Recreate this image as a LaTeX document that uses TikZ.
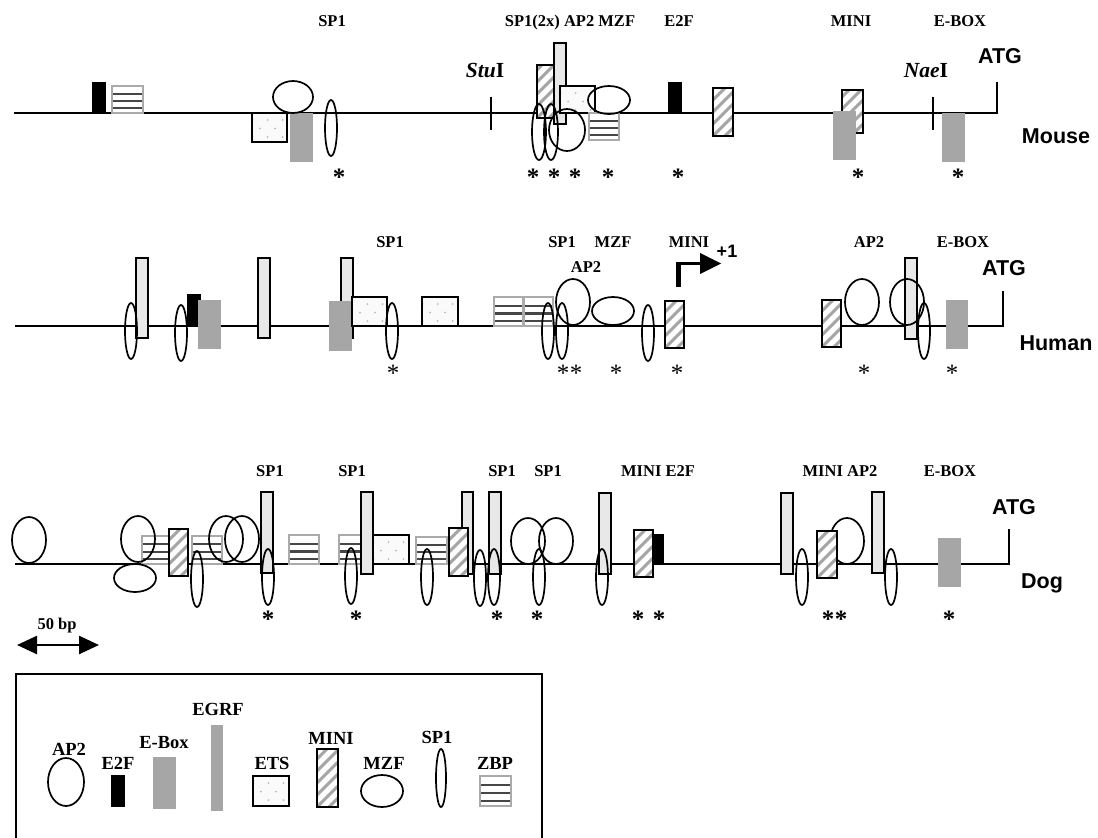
\documentclass[tikz,border=0pt]{standalone}
\usepackage{fontspec}
\setmainfont{Liberation Serif}
\newfontfamily\arialf{Liberation Sans}
\usetikzlibrary{calc,arrows.meta}
\definecolor{egrfgray}{RGB}{232,232,232}
\definecolor{boxgray}{RGB}{166,166,166}
\definecolor{zbpgray}{RGB}{170,170,170}
\definecolor{zbpdark}{RGB}{70,70,70}
\definecolor{etsfill}{RGB}{250,250,250}
\definecolor{etsdot}{RGB}{185,185,185}
\definecolor{hatchgray}{RGB}{165,165,165}
\tikzset{
 dna/.style={line width=1.6pt},
 shp/.style={draw=black, line width=1.6pt},
 ell/.style={draw=black, line width=1.7pt},
 hatch/.style={hatchgray, line width=3pt},
 zbpline/.style={zbpdark, line width=2.1pt},
 zbpedge/.style={zbpgray, line width=2.6pt},
 lbl/.style={font=\fontsize{16.5}{18}\selectfont\bfseries, anchor=base, inner sep=0pt},
 leg/.style={font=\fontsize{18.5}{20}\selectfont\bfseries, anchor=base, inner sep=0pt},
 sans/.style={font=\arialf\fontsize{21.5}{24}\selectfont\bfseries, anchor=base, inner sep=0pt},
 enz/.style={font=\fontsize{21.5}{24}\selectfont\bfseries, anchor=base, inner sep=0pt},
 ast/.style={font=\fontsize{25}{26}\selectfont\bfseries, anchor=base, inner sep=0pt},
 astl/.style={font=\fontsize{25}{26}\selectfont, anchor=base, inner sep=0pt},
}
\newcommand\tfEGRF[4]{\filldraw[shp, fill=egrfgray] (#1,#2) rectangle (#3,#4);}
\newcommand\tfEBOX[4]{\fill[boxgray] (#1,#2) rectangle (#3,#4);}
\newcommand\tfEtwoF[4]{\fill[black] (#1,#2) rectangle (#3,#4);}
\newcommand\tfELL[4]{\draw[ell] (#1,#2) ellipse [x radius=#3pt, y radius=#4pt];}
\newcommand\tfSP[2]{\tfELL{#1}{#2}{6}{28}}
\newcommand\tfAP[2]{\tfELL{#1}{#2}{17}{23}}
\newcommand\tfMZ[2]{\tfELL{#1}{#2}{21}{14}}
\newcommand\tfZBP[4]{%
 \fill[white] (#1,#2) rectangle (#3,#4);
 \foreach \f in {0.3,0.57,0.83} \draw[zbpline] ($(#1,#2)!\f!(#1,#4)$) -- ($(#3,#2)!\f!(#3,#4)$);
 \draw[zbpedge] (#1,#2) rectangle (#3,#4);}
\newcommand\tfETS[4]{%
 \fill[etsfill] (#1,#2) rectangle (#3,#4);
 \begin{scope}
 \clip (#1,#2) rectangle (#3,#4);
 \foreach \j in {0,2,4} \foreach \i in {-1,...,3} \fill[etsdot] ($(#1,#2)+(\i*15+8,\j*8.5-1.5)$) circle (1pt);
 \foreach \j in {1,3} \foreach \i in {-1,...,3} \fill[etsdot] ($(#1,#2)+(\i*15+15.5,\j*8.5-1.5)$) circle (1pt);
 \end{scope}
 \draw[shp] (#1,#2) rectangle (#3,#4);}
\newcommand\tfMINI[4]{%
 \begin{scope}
 \clip (#1,#2) rectangle (#3,#4);
 \fill[white] (#1,#2) rectangle (#3,#4);
 \foreach \k in {-7,...,3} \draw[hatch] ($(#1,#4)+(\k*12,0)$) -- ++(80,-80);
 \end{scope}
 \draw[shp] (#1,#2) rectangle (#3,#4);}
\begin{document}
\begin{tikzpicture}[x=1pt,y=-1pt]
\useasboundingbox (0,0) rectangle (1098,838);
% ================= MOUSE =================
\coordinate (mL) at (14,113);
\coordinate (mR) at (997,113);
\coordinate (mT) at (997,82);
\draw[dna] (mL) -- (mR) -- (mT);
\tfEtwoF{92}{82}{106}{113}
\tfZBP{112}{86}{143}{113}
\tfETS{252}{113}{287}{142}
\tfEBOX{290}{113}{313}{162}
\tfELL{293}{97}{20}{16}
\tfSP{331}{128}
\coordinate (stuA) at (491,97); \coordinate (stuB) at (491,130);
\draw[dna] (stuA) -- (stuB);
\tfMINI{537}{65}{557}{118}
\tfEGRF{554}{43}{566}{124}
\tfETS{560}{86}{595}{113}
\tfZBP{589}{113}{619}{140}
\tfMZ{609}{100}
\tfELL{539}{132}{7}{28}
\tfELL{551}{132}{7}{28}
\tfELL{567}{130}{18}{21}
\tfEtwoF{668}{82}{682}{113}
\tfMINI{713}{88}{733}{136}
\tfMINI{842}{90}{863}{133}
\tfEBOX{833}{111}{856}{160}
\coordinate (naeA) at (933,97); \coordinate (naeB) at (933,130);
\draw[dna] (naeA) -- (naeB);
\tfEBOX{942}{113}{965}{162}
\node[lbl] (mt1) at (332,26) {SP1};
\node[lbl] (mt2) at (570,26) {SP1(2x) AP2 MZF};
\node[lbl] (mt3) at (679,26) {E2F};
\node[lbl] (mt4) at (851,26) {MINI};
\node[lbl] (mt5) at (960,26) {E-BOX};
\node[enz] (stu) at (485,77) {\itshape Stu\upshape I};
\node[enz] (nae) at (926,77) {\itshape Nae\upshape I};
\node[sans] (matg) at (1000,63) {ATG};
\node[sans] (mouse) at (1056,143) {Mouse};
\foreach \x [count=\n] in {339,533,554,575,608,678,858,958}
 \node[ast] (ma\n) at (\x,185) {*};
% ================= HUMAN =================
\coordinate (hL) at (15,326);
\coordinate (hR) at (1003,326);
\coordinate (hT) at (1003,291);
\draw[dna] (hL) -- (hR) -- (hT);
\tfEGRF{136}{258}{148}{338}
\tfEtwoF{187}{294}{201}{325}
\tfEBOX{198}{300}{221}{349}
\tfEGRF{258}{258}{270}{338}
\tfEGRF{341}{258}{353}{338}
\tfEBOX{329}{301}{352}{351}
\tfETS{352}{297}{387}{326}
\tfETS{422}{297}{458}{326}
\tfZBP{494}{297}{523}{326}
\tfZBP{524}{297}{553}{326}
\tfMINI{665}{301}{684}{348}
\tfMINI{822}{300}{841}{347}
\tfEGRF{905}{258}{917}{339}
\tfEBOX{946}{300}{968}{349}
\tfSP{131}{331}
\tfSP{181}{333}
\tfSP{392}{331}
\tfSP{548}{331}
\tfSP{562}{331}
\tfAP{573}{302}
\tfMZ{613}{311}
\tfSP{648}{333}
\tfAP{862}{302}
\tfAP{907}{302}
\tfSP{924}{331}
% transcription start arrow
\coordinate (tsA) at (678.5,287);
\coordinate (tsB) at (678.5,261.5);
\coordinate (tsC) at (676,263.5);
\coordinate (tsD) at (702,263.5);
\draw[line width=5pt] (tsA) -- (tsB);
\draw[line width=2.5pt] (tsC) -- (tsD);
\fill (700,253) -- (721,263.5) -- (700,274) -- cycle;
\node[font=\arialf\fontsize{18}{20}\selectfont\bfseries, anchor=base, inner sep=0pt] (plus1) at (727,257) {+1};
\node[lbl] (ht1) at (390,247) {SP1};
\node[lbl] (ht2) at (562,247) {SP1};
\node[lbl] (ht3) at (613,247) {MZF};
\node[lbl] (ht4) at (689,247) {MINI};
\node[lbl] (ht5) at (586,272) {AP2};
\node[lbl] (ht6) at (869,247) {AP2};
\node[lbl] (ht7) at (963,247) {E-BOX};
\node[sans] (hatg) at (1004,275) {ATG};
\node[sans] (human) at (1056,350) {Human};
\foreach \x [count=\n] in {393,563,576,616,677,864,952}
 \node[astl] (ha\n) at (\x,381) {*};
% ================= DOG =================
\coordinate (dL) at (15,564);
\coordinate (dR) at (1009,564);
\coordinate (dT) at (1009,529);
\draw[dna] (dL) -- (dR) -- (dT);
\tfZBP{142}{536}{170}{564}
\tfMINI{169}{529}{188}{576}
\tfZBP{192}{536}{222}{564}
\tfEGRF{261}{492}{273}{573}
\tfZBP{289}{535}{319}{564}
\tfZBP{339}{535}{368}{564}
\tfEGRF{361}{492}{373}{574}
\tfETS{373}{535}{409}{564}
\tfZBP{416}{537}{447}{564}
\tfEGRF{462}{492}{473}{574}
\tfMINI{449}{528}{468}{576}
\tfEGRF{489}{492}{501}{574}
\tfEGRF{599}{493}{611}{574}
\tfMINI{634}{530}{653}{577}
\tfEtwoF{653}{534}{664}{564}
\tfEGRF{781}{493}{793}{574}
\tfAP{847}{541}
\tfMINI{817}{531}{837}{578}
\tfEGRF{872}{492}{884}{573}
\tfEBOX{938}{538}{961}{587}
\tfAP{29}{540}
\tfAP{138}{539}
\tfMZ{135}{578}
\tfSP{197}{579}
\tfAP{226}{539}
\tfAP{242}{539}
\tfSP{268}{577}
\tfSP{351}{576}
\tfSP{427}{577}
\tfSP{480}{578}
\tfSP{494}{577}
\tfAP{528}{541}
\tfAP{556}{541}
\tfSP{539}{577}
\tfSP{602}{577}
\tfSP{802}{577}
\tfSP{891}{577}
\node[lbl] (dt1) at (270,476) {SP1};
\node[lbl] (dt2) at (352,476) {SP1};
\node[lbl] (dt3) at (502,476) {SP1};
\node[lbl] (dt4) at (548,476) {SP1};
\node[lbl] (dt5) at (658,476) {MINI E2F};
\node[lbl] (dt6) at (840,476) {MINI AP2};
\node[lbl] (dt7) at (950,476) {E-BOX};
\node[sans] (datg) at (1014,514) {ATG};
\node[sans] (dog) at (1042,588) {Dog};
\foreach \x [count=\n] in {268,356,497,537,638,659,828,841,949}
 \node[ast] (da\n) at (\x,627) {*};
% ================= SCALE BAR =================
\node[lbl] (bp) at (57,629) {50 bp};
\coordinate (sbL) at (17,645);
\coordinate (sbR) at (99,645);
\draw[line width=2.5pt, {Triangle[length=20pt,width=18pt]}-{Triangle[length=20pt,width=18pt]}] (sbL) -- (sbR);
% ================= LEGEND =================
\coordinate (lgA) at (16,840);
\coordinate (lgB) at (16,674);
\coordinate (lgC) at (542,674);
\coordinate (lgD) at (542,840);
\draw[line width=1.6pt] (lgA) -- (lgB) -- (lgC) -- (lgD);
\tfELL{66}{782}{18}{24}
\tfEtwoF{111}{775}{125}{807}
\tfEBOX{153}{757}{176}{809}
\fill[boxgray] (211,725) rectangle (223,811);
\tfETS{253}{776}{289}{806}
\tfMINI{317}{749}{338}{807}
\tfELL{382}{791}{21}{16}
\tfELL{441}{778}{5}{29}
\tfZBP{480}{776}{511}{806}
\node[leg] (l1) at (69,755) {AP2};
\node[leg] (l2) at (118,769) {E2F};
\node[leg] (l3) at (164,748) {E-Box};
\node[leg] (l4) at (218,715) {EGRF};
\node[leg] (l5) at (272,769) {ETS};
\node[leg] (l6) at (331,744) {MINI};
\node[leg] (l7) at (384,769) {MZF};
\node[leg] (l8) at (437,743) {SP1};
\node[leg] (l9) at (495,769) {ZBP};
\end{tikzpicture}
\end{document}
